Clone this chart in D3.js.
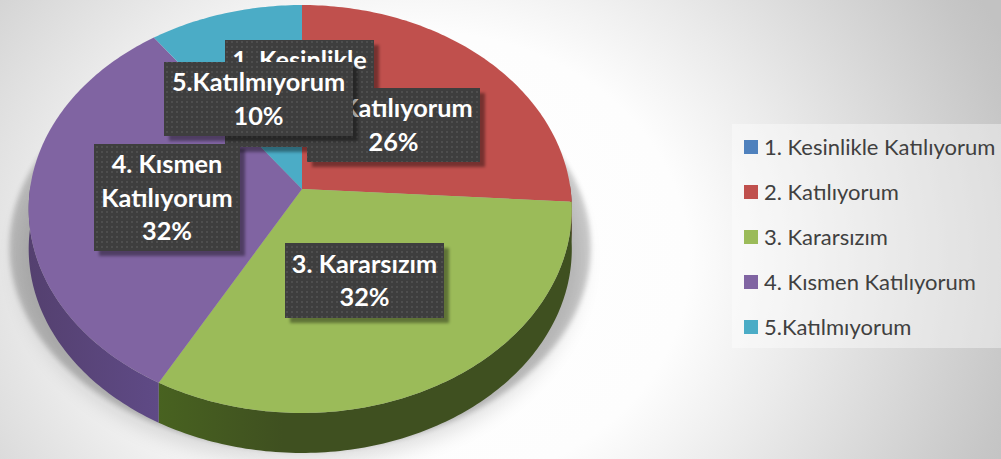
<!DOCTYPE html>
<html><head><meta charset="utf-8">
<script src="https://cdn.jsdelivr.net/npm/d3@7/dist/d3.min.js"></script>
<style>html,body{margin:0;padding:0;background:#fff;overflow:hidden}svg{display:block}</style>
</head><body><svg id="c" width="1001" height="459"></svg>
<script>
const categories = ["1. Kesinlikle Katılıyorum","2. Katılıyorum","3. Kararsızım","4. Kısmen Katılıyorum","5.Katılmıyorum"];
const values = [0,26,32,32,10];
const colors = ["#4f81bd","#c0504d","#9bbb59","#8064a2","#4bacc6"];
const sideLight = ["#2c4a70","#74302e","#486220","#5f4a86","#2b6c7e"];
const sideDark = ["#2c4a70","#74302e","#3f5020","#54406f","#2b6c7e"];
const labelLines = [["1. Kesinlikle","Katılıyorum","0%"],["2. Katılıyorum","26%"],["3. Kararsızım","32%"],["4. Kısmen","Katılıyorum","32%"],["5.Katılmıyorum","10%"]];
const labelBoxes = [[225,40,149,107],[307,88,173,74],[285,243,159,75],[94,144,146,107],[164,62,189,74]];
const labelOrder = [0,1,2,3,4];

const svg = d3.select("#c");
const defs = svg.append("defs");
const bg = defs.append("radialGradient").attr("id","bg").attr("gradientUnits","userSpaceOnUse")
  .attr("cx",420).attr("cy",260).attr("r",640).attr("gradientTransform","translate(420 260) scale(1 .85) translate(-420 -260)");
[[0,"#ffffff"],[.42,"#fdfdfd"],[.6,"#ebebeb"],[.95,"#c6c6c6"],[1,"#c2c2c2"]].forEach(s=>bg.append("stop").attr("offset",s[0]).attr("stop-color",s[1]));
const pat = defs.append("pattern").attr("id","dots").attr("width",5).attr("height",5).attr("patternUnits","userSpaceOnUse");
pat.append("rect").attr("width",5).attr("height",5).attr("fill","#3e3e3e");
pat.append("rect").attr("x",1).attr("y",1).attr("width",2).attr("height",2).attr("fill","#4e4e4e");
const mkBlur=(id,s)=>defs.append("filter").attr("id",id).attr("x","-20%").attr("y","-20%").attr("width","140%").attr("height","140%").append("feGaussianBlur").attr("stdDeviation",s);
mkBlur("sh",1.5); mkBlur("gs1",2.5); mkBlur("gs2",10);

svg.append("rect").attr("width",1001).attr("height",459).attr("fill","url(#bg)");

// perspective projection of the pie's unit circle
const cx=302, cy=189, rxR=268.5, rxL=272, ry=202, k=0.098, depth=40;
const proj = (t,r=1)=>{const X=r*Math.sin(t),Y=-r*Math.cos(t),d=1-k*Y;return [cx+(X<0?rxL:rxR)*X/d, cy+ry*Y/d];};
const arcs = d3.pie().sort(null).value(d=>d)(values);
const line = d3.line();
const rim = (a,b)=>{const n=Math.max(2,Math.ceil(Math.abs(b-a)*60));return d3.range(n+1).map(i=>proj(a+(b-a)*i/n));};
const full = rim(0,2*Math.PI);

// ground shadow
const ground=(sx,dy)=>line(full.map(p=>[cx+(p[0]-cx)*sx,p[1]+dy]))+"Z";
svg.append("path").attr("d",ground(1.07,38)).attr("fill","#000").attr("opacity",.19).attr("filter","url(#gs1)");
svg.append("path").attr("d",ground(1.04,50)).attr("fill","#000").attr("opacity",.12).attr("filter","url(#gs2)");

// side walls
arcs.forEach((a,i)=>{
  if(a.endAngle-a.startAngle<=0) return;
  const s=Math.max(a.startAngle,Math.PI/2-0.02), e=Math.min(a.endAngle,Math.PI*3/2+0.02);
  if(e<=s) return;
  const r=rim(s,e);
  const poly=r.concat(r.slice().reverse().map(p=>[p[0],p[1]+depth]));
  const gid="side"+i;
  const xs=d3.extent(r,p=>p[0]);
  const g=defs.append("linearGradient").attr("id",gid).attr("gradientUnits","userSpaceOnUse")
    .attr("x1",i===3?xs[0]:xs[1]).attr("x2",i===3?xs[1]:xs[0]).attr("y1",0).attr("y2",0);
  if(i===2){ g.attr("x1",xs[0]).attr("x2",xs[1]);
    [[0,sideLight[i]],[.3,sideDark[i]],[.75,sideDark[i]],[1,sideDark[i]]].forEach(t=>g.append("stop").attr("offset",t[0]).attr("stop-color",t[1]));
  } else {
    [[0,sideDark[i]],[1,sideLight[i]]].forEach(t=>g.append("stop").attr("offset",t[0]).attr("stop-color",t[1]));
  }
  svg.append("path").attr("d",line(poly)+"Z").attr("fill","url(#"+gid+")");
});
// top slices
arcs.forEach((a,i)=>{
  if(a.endAngle-a.startAngle<=0) return;
  svg.append("path").attr("d",line([[cx,cy]].concat(rim(a.startAngle,a.endAngle)))+"Z").attr("fill",colors[i]);
});

// data labels
labelOrder.forEach(i=>{
  const b=labelBoxes[i];
  svg.append("rect").attr("x",b[0]+5).attr("y",b[1]+5).attr("width",b[2]).attr("height",b[3]).attr("fill","#000").attr("opacity",.38).attr("filter","url(#sh)");
  svg.append("rect").attr("x",b[0]).attr("y",b[1]).attr("width",b[2]).attr("height",b[3]).attr("fill","url(#dots)");
  const lines=labelLines[i], lh=33.5, y0=b[1]+b[3]/2-(lines.length-1)*lh/2;
  lines.forEach((t,j)=>svg.append("text").attr("x",b[0]+b[2]/2).attr("y",y0+j*lh+9).attr("text-anchor","middle")
    .attr("font-family","Lato").attr("font-weight",700).attr("font-size",25.3).attr("fill","#fff").text(t));
});

// legend
svg.append("rect").attr("x",732).attr("y",124).attr("width",269).attr("height",224).attr("fill","#fff").attr("opacity",.4);
const legendY=d3.scalePoint().domain(categories).range([147,327]);
categories.forEach((c,i)=>{
  svg.append("rect").attr("x",744).attr("y",legendY(c)-7).attr("width",14).attr("height",14).attr("fill",colors[i]);
  svg.append("text").attr("x",764).attr("y",legendY(c)+8).attr("font-family","Lato").attr("font-size",22).attr("fill","#404040").text(c);
});
</script></body></html>
